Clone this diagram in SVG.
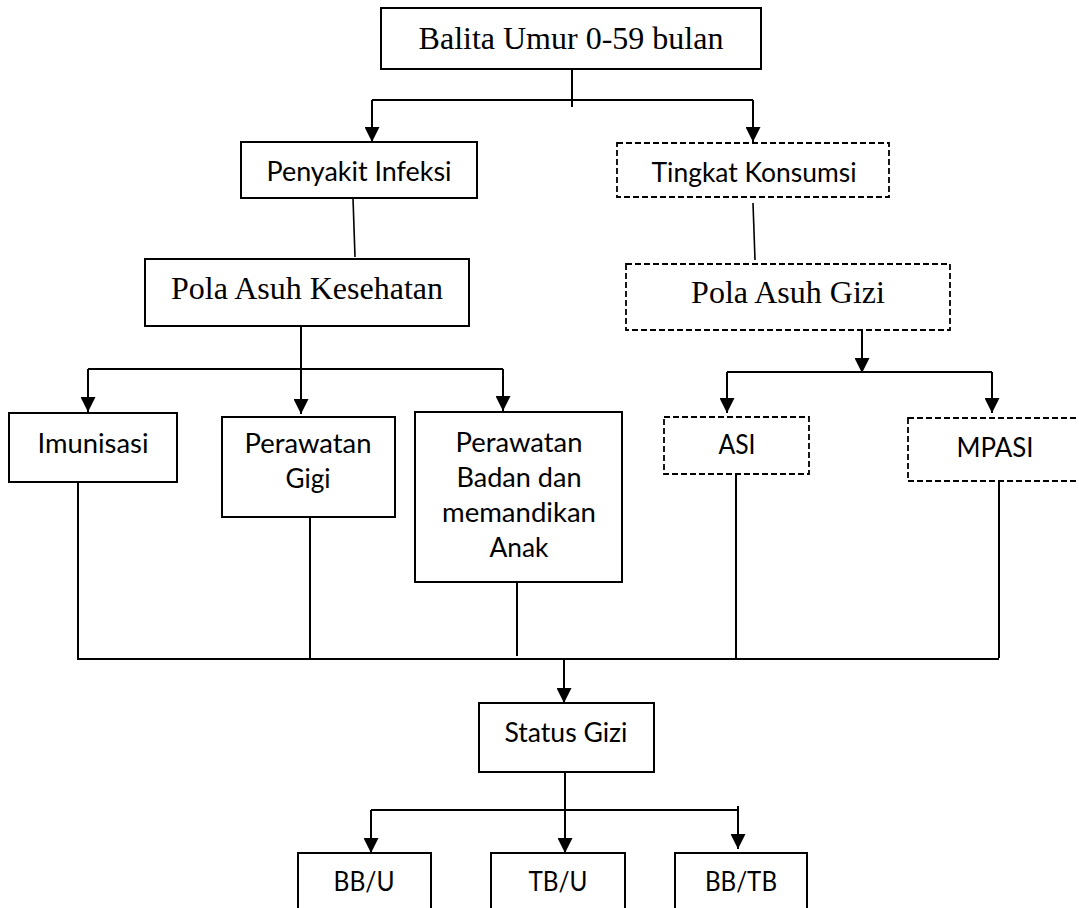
<svg xmlns="http://www.w3.org/2000/svg" width="1079" height="908" viewBox="0 0 1079 908">
<style>
.box{fill:#fff;stroke:#000;stroke-width:2}
.dash{fill:#fff;stroke:#000;stroke-width:1.8;stroke-dasharray:6 3}
.serif{font-family:"Liberation Serif","Times New Roman",serif;font-size:32px;fill:#000;text-anchor:middle}
.sans{font-family:Lato,"Noto Sans",sans-serif;font-size:26px;fill:#000;text-anchor:middle}
.ln{fill:none;stroke:#000;stroke-width:2}
.ar{fill:none;stroke:#000;stroke-width:2;marker-end:url(#ah)}
</style>
<defs>
<marker id="ah" viewBox="0 0 15 15" refX="15" refY="7.5" markerWidth="15" markerHeight="15" markerUnits="userSpaceOnUse" orient="auto">
<path d="M0,0 L15,7.5 L0,15 z" fill="#000"/>
</marker>
</defs>
<rect width="1079" height="908" fill="#fff"/>
<g id="connectors">
<path class="ln" d="M572 65 V107"/>
<path class="ln" d="M372 100 H753"/>
<path class="ar" d="M372 100 V142"/>
<path class="ar" d="M753 100 V142"/>
<path class="ln" d="M353 198 L355 257" style="stroke-width:1.6"/>
<path class="ln" d="M753 203 L755 260" style="stroke-width:1.6"/>
<path class="ar" d="M301 319 V414"/>
<path class="ln" d="M88 369 H503"/>
<path class="ar" d="M88 369 V412"/>
<path class="ar" d="M503 369 V411"/>
<path class="ar" d="M862 330 V373"/>
<path class="ln" d="M727 372 H992"/>
<path class="ar" d="M727 372 V413"/>
<path class="ar" d="M992 372 V413"/>
<path class="ln" d="M78 480 V660"/>
<path class="ln" d="M310 514 V659"/>
<path class="ln" d="M517 580 V656"/>
<path class="ln" d="M736 474 V658"/>
<path class="ln" d="M999 481 V658"/>
<path class="ln" d="M78 659 H999"/>
<path class="ar" d="M564 659 V703"/>
<path class="ar" d="M565 772 V853"/>
<path class="ln" d="M371 810 H738"/>
<path class="ar" d="M371 810 V853"/>
<path class="ar" d="M738 806 V849"/>
</g>
<g id="n-balita"><rect class="box" x="381" y="8" width="380" height="61"/><text class="serif" x="571" y="49">Balita Umur 0-59 bulan</text></g>
<g id="n-penyakit"><rect class="box" x="241" y="142" width="236" height="56"/><text class="sans" x="359" y="181" textLength="185" lengthAdjust="spacingAndGlyphs">Penyakit Infeksi</text></g>
<g id="n-tingkat"><rect class="dash" x="617" y="143" width="272" height="54"/><text class="sans" x="754" y="182" textLength="205" lengthAdjust="spacingAndGlyphs">Tingkat Konsumsi</text></g>
<g id="n-pak"><rect class="box" x="145" y="259" width="324" height="67"/><text class="serif" x="307" y="299">Pola Asuh Kesehatan</text></g>
<g id="n-pag"><rect class="dash" x="626" y="264" width="324" height="66"/><text class="serif" x="788" y="303">Pola Asuh Gizi</text></g>
<g id="n-imunisasi"><rect class="box" x="9" y="413" width="168" height="69"/><text class="sans" x="93" y="453" textLength="111" lengthAdjust="spacingAndGlyphs">Imunisasi</text></g>
<g id="n-gigi"><rect class="box" x="222" y="417" width="173" height="100"/><text class="sans" x="308" y="453" textLength="127" lengthAdjust="spacingAndGlyphs">Perawatan</text><text class="sans" x="308" y="488" textLength="45" lengthAdjust="spacingAndGlyphs">Gigi</text></g>
<g id="n-badan"><rect class="box" x="415" y="412" width="207" height="170"/><text class="sans" x="519" y="452" textLength="127" lengthAdjust="spacingAndGlyphs">Perawatan</text><text class="sans" x="519" y="487" textLength="125" lengthAdjust="spacingAndGlyphs">Badan dan</text><text class="sans" x="519" y="522" textLength="154" lengthAdjust="spacingAndGlyphs">memandikan</text><text class="sans" x="519" y="557" textLength="59" lengthAdjust="spacingAndGlyphs">Anak</text></g>
<g id="n-asi"><rect class="dash" x="664" y="417" width="145" height="57"/><text class="sans" x="737" y="454" textLength="37" lengthAdjust="spacingAndGlyphs">ASI</text></g>
<g id="n-mpasi"><rect class="dash" x="908" y="418" width="174" height="63"/><text class="sans" x="995" y="457" textLength="77" lengthAdjust="spacingAndGlyphs">MPASI</text></g>
<g id="n-status"><rect class="box" x="479" y="703" width="175" height="69"/><text class="sans" x="566" y="742" textLength="123" lengthAdjust="spacingAndGlyphs">Status Gizi</text></g>
<g id="n-bbu"><rect class="box" x="298" y="853" width="133" height="70"/><text class="sans" x="364" y="891" textLength="61" lengthAdjust="spacingAndGlyphs">BB/U</text></g>
<g id="n-tbu"><rect class="box" x="491" y="853" width="134" height="70"/><text class="sans" x="558" y="891" textLength="59" lengthAdjust="spacingAndGlyphs">TB/U</text></g>
<g id="n-bbtb"><rect class="box" x="675" y="853" width="132" height="70"/><text class="sans" x="741" y="891" textLength="72" lengthAdjust="spacingAndGlyphs">BB/TB</text></g>
</svg>
